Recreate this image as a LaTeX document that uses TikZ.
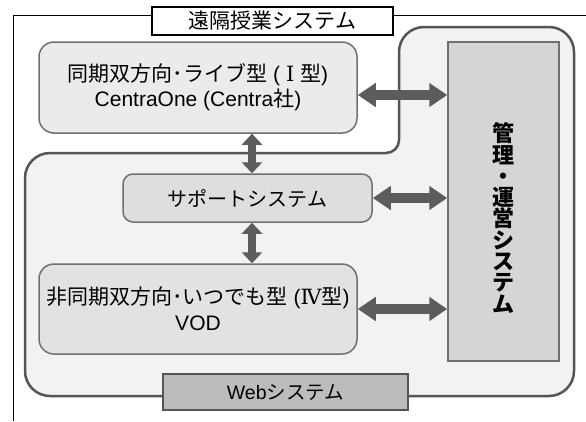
\documentclass[tikz,border=0pt]{standalone}
\usepackage{fontspec}
\setmainfont{Liberation Sans}
\newfontfamily\jp{Noto Sans CJK JP}
\newfontfamily\rn{DejaVu Serif}
\usetikzlibrary{arrows.meta}
\definecolor{webfill}{HTML}{F2F2F2}
\definecolor{webline}{HTML}{555555}
\definecolor{boxfill}{HTML}{EBEBEB}
\definecolor{supfill}{HTML}{DEDEDE}
\definecolor{botfill}{HTML}{E2E2E2}
\definecolor{mgfill}{HTML}{D5D5D5}
\definecolor{wbfill}{HTML}{BCBCBC}
\definecolor{boxline}{HTML}{707070}
\definecolor{arrowc}{HTML}{5C5C5C}
\tikzset{
  rbox/.style={draw=boxline, line width=1.5pt, rounded corners=15pt, align=center, inner sep=0pt},
  hfat/.style={draw=arrowc, line width=10pt, {Triangle[width=23pt,length=18pt]}-{Triangle[width=23pt,length=18pt]}},
  vfat/.style={draw=arrowc, line width=7.5pt, {Triangle[width=20pt,length=11pt]}-{Triangle[width=20pt,length=11pt]}},
}
\begin{document}
\begin{tikzpicture}[x=1pt,y=1pt]
\useasboundingbox (0,0) rectangle (586,-421);
\fill[white] (0,0) rectangle (586,-421);
% outer frame
\draw[black, line width=1pt] (586,-15) -- (13,-15) -- (13,-421);
% title
\node[draw=black, fill=white, line width=1.3pt, minimum width=241pt, minimum height=28pt, inner sep=0pt, font=\jp\fontsize{21}{24}\selectfont] (title) at (272.5,-21) {遠隔授業システム};
% web system shape
\draw[draw=webline, fill=webfill, line width=2.5pt]
  (50,-153) -- (386,-153) arc[start angle=-90, end angle=0, radius=13]
  -- (399,-52) arc[start angle=180, end angle=90, radius=25]
  -- (549,-27) arc[start angle=90, end angle=0, radius=25]
  -- (574,-371) arc[start angle=0, end angle=-90, radius=25]
  -- (50,-396) arc[start angle=-90, end angle=-180, radius=25]
  -- (25,-178) arc[start angle=180, end angle=90, radius=25] -- cycle;
% boxes
\node[rbox, fill=boxfill, minimum width=318pt, minimum height=91pt, font=\fontsize{21}{25}\selectfont] (top) at (198,-87.5)
  {{\jp 同期双方向･ライブ型} ( {\rn Ⅰ} {\jp 型})\\CentraOne (Centra{\jp 社})};
\node[rbox, fill=supfill, rounded corners=10pt, minimum width=249pt, minimum height=48pt, font=\jp\fontsize{20}{24}\selectfont] (sup) at (247.5,-198)
  {サポートシステム};
\node[rbox, fill=botfill, minimum width=318pt, minimum height=90pt, font=\fontsize{21}{26}\selectfont] (bot) at (198,-309)
  {{\jp 非同期双方向･いつでも型} ({\rn Ⅳ}{\jp 型})\\VOD};
\node[draw=boxline, fill=mgfill, line width=1.5pt, minimum width=111pt, minimum height=319pt, inner sep=0pt] (mgmt) at (503.5,-201.5) {};
\node[align=center, inner sep=0pt, font=\jp\bfseries\fontsize{22}{21.3}\selectfont] (mgtext) at (503.5,-218)
  {管\\理\\・\\運\\営\\シ\\ス\\テ\\ム};
\node[draw=webline, fill=wbfill, line width=2pt, minimum width=245pt, minimum height=36pt, inner sep=0pt, font=\fontsize{19.5}{23}\selectfont] (web) at (285.5,-392)
  {Web{\jp システム}};
% arrows
\coordinate (h1) at (0,-95);
\coordinate (vx) at (252,0);
\draw[hfat] (top.east |- h1) -- (mgmt.west |- h1);
\draw[hfat] (sup.east) -- (sup.east -| mgmt.west);
\draw[hfat] (bot.east) -- (bot.east -| mgmt.west);
\draw[vfat] (vx |- top.south) -- (vx |- sup.north);
\draw[vfat] (vx |- sup.south) -- (vx |- bot.north);
\end{tikzpicture}
\end{document}
